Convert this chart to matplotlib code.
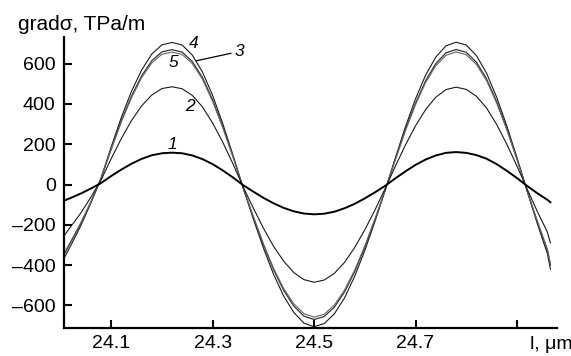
import matplotlib
matplotlib.use("Agg")
import matplotlib.pyplot as plt

plt.rcParams['font.family'] = ['Liberation Sans', 'DejaVu Sans']

# position along the sample, micrometres
x_um = [24.00, 24.02, 24.04, 24.06, 24.08, 24.10, 24.12, 24.14, 24.16, 24.18,
        24.20, 24.22, 24.24, 24.26, 24.28, 24.30, 24.32, 24.34, 24.36, 24.38,
        24.40, 24.42, 24.44, 24.46, 24.48, 24.50, 24.52, 24.54, 24.56, 24.58,
        24.60, 24.62, 24.64, 24.66, 24.68, 24.70, 24.72, 24.74, 24.76, 24.78,
        24.80, 24.82, 24.84, 24.86, 24.88, 24.90, 24.92, 24.94, 24.96, 24.966]

curve1 = [-87, -67, -45, -20, 7, 42, 74, 103, 127, 145,
          155, 158, 155, 144, 126, 101, 70, 35, -3, -35,
          -66, -93, -116, -133, -144, -148, -145, -135, -118, -96,
          -69, -39, -7, 30, 65, 97, 124, 144, 157, 161,
          157, 146, 128, 101, 68, 32, -7, -43, -76, -88]

curve2 = [-279, -210, -142, -63, 22, 128, 228, 317, 390, 444,
          476, 485, 475, 442, 385, 305, 210, 103, -11, -116,
          -216, -306, -380, -437, -472, -485, -474, -441, -387, -313,
          -225, -127, -21, 89, 195, 291, 372, 433, 471, 483,
          472, 438, 380, 298, 200, 92, -22, -133, -236, -290]

curve3 = [-372, -283, -191, -86, 30, 174, 310, 430, 530, 603,
          646, 657, 645, 600, 522, 412, 282, 138, -14, -157,
          -293, -415, -516, -592, -641, -658, -644, -598, -524, -425,
          -305, -172, -29, 121, 266, 396, 506, 589, 641, 658,
          644, 596, 516, 404, 272, 125, -30, -180, -320, -395]

curve4 = [-400, -305, -205, -92, 32, 186, 333, 462, 568, 647,
          693, 705, 692, 642, 558, 442, 302, 147, -16, -169,
          -314, -445, -553, -635, -688, -706, -690, -642, -563, -456,
          -328, -184, -31, 130, 285, 425, 543, 632, 688, 706,
          692, 640, 553, 433, 291, 134, -32, -193, -343, -420]

curve5 = [-382, -288, -194, -87, 30, 177, 316, 438, 539, 614,
          658, 669, 657, 610, 531, 420, 287, 140, -15, -160,
          -298, -422, -525, -603, -653, -670, -655, -609, -534, -433,
          -311, -175, -29, 123, 271, 403, 515, 600, 653, 670,
          656, 607, 525, 411, 277, 127, -31, -184, -326, -400]

curve_labels = ['1', '2', '3', '4', '5']
label_pos = [(24.221, 198), (24.256, 385), (24.352, 660), (24.262, 700), (24.223, 606)]

y_ticks = [-600, -400, -200, 0, 200, 400, 600]
y_ticklabels = ['\u2013600', '\u2013400', '\u2013200', '0', '200', '400', '600']
x_ticks = [24.1, 24.3, 24.5, 24.7, 24.9]
x_ticklabels = ['24.1', '24.3', '24.5', '24.7', '']

fig = plt.figure(figsize=(5.71, 3.56), dpi=100)
ax = fig.add_axes([0.1121, 0.0787, 0.8634, 0.8174])

ax.plot(x_um, curve4, color='#1a1a1a', lw=0.8)
ax.plot(x_um, curve5, color='#333333', lw=0.9)
ax.plot(x_um, curve3, color='#666666', lw=0.8)
ax.plot(x_um, curve2, color='#1a1a1a', lw=0.8)
ax.plot(x_um, curve1, color='black', lw=1.4)

ax.set_xlim(24.007, 24.979)
ax.set_ylim(-712, 732)

for sp in ['top', 'right']:
    ax.spines[sp].set_visible(False)
for sp in ['left', 'bottom']:
    ax.spines[sp].set_linewidth(1.6)

ax.set_xticks(x_ticks)
ax.set_xticklabels(x_ticklabels)
ax.set_yticks(y_ticks)
ax.set_yticklabels(y_ticklabels)
ax.tick_params(direction='in', length=6, width=1.5, labelsize=14, pad=5)
ax.tick_params(axis='y', pad=6)

for lab, (lx, ly) in zip(curve_labels, label_pos):
    ax.text(lx, ly, lab, fontsize=12.5, style='italic', ha='center', va='center')

ax.plot([24.336, 24.268], [651, 614], color='black', lw=0.9)

ax.text(0.945, -0.028, 'l, \u03bcm', transform=ax.transAxes, fontsize=14,
        ha='left', va='top')

fig.text(18 / 571, 1 - 30 / 356, 'grad\u03c3, TPa/m', fontsize=15, ha='left', va='baseline')

fig.savefig('out.png', dpi=100)
